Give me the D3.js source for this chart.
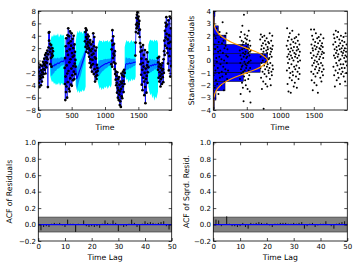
<!DOCTYPE html>
<html lang="en">
<head>
<meta charset="UTF-8">
<title>Model diagnostics</title>
<style>
  html, body { margin: 0; padding: 0; background: #fff; }
  svg { display: block; font-family: "DejaVu Sans", sans-serif; }
</style>
</head>
<body>
<svg id="svg" width="360" height="270"></svg>
<script src="https://d3js.org/d3.v7.min.js"></script>
<script>
// ---- data ----
// observation clusters (time range, values in time order)
const clusterStart = [0, 395, 700, 1095, 1455, 1790]
const clusterEnd = [220, 560, 890, 1295, 1650, 1995]
const obs1 = [-0.4, -1.8, -3.6, -1.1, -4.3, -2.5, -3.0, -0.7, -2.8, -4.0, -1.6, -2.3, -3.4, -0.9, -1.9, -2.7, -0.2, -1.4, -2.2, -0.6, 0.3, -1.5, -0.8, 0.9, -2.1, -0.3, 1.2, -1.1, 0.5, -0.4, 1.6, 0.2, -4.3, 1.0, 2.1, 4.5, 3.2, 4.6, 1.4, 2.7, -0.6, 1.9, 0.4, 2.5, -1.0, 1.1, 0.6, 2.0, 0.8, 1.5]
const obs2 = [-1.2, -3.8, 0.4, -6.4, -2.6, 2.3, -5.1, 3.6, -4.2, -0.8, 1.5, -6.0, -2.1, 4.1, -3.5, 0.9, 5.2, -1.7, 2.8, -4.6, 3.9, -0.3, -5.0, 1.8, 4.7, -2.9, 0.2, 3.1, -3.9, 2.4, -1.3, 4.4, -4.1, 1.2, -2.4, 3.5, 0.6, -3.2, 2.0, -0.9, 4.0, -1.8, 0.8, -3.0, 2.6, -0.5, 1.4, -2.2, 0.1, -1.0]
const obs3 = [3.1, 4.6, 2.2, 5.2, 3.8, 1.4, 4.9, 2.7, 3.5, 1.9, 4.2, 2.4, 3.0, 1.2, 3.9, 2.0, 0.6, 2.9, -0.4, 1.7, 3.3, 0.2, -1.1, 1.5, 2.6, -0.8, 0.9, -1.8, 1.9, 0.1, 3.0, -0.6, 4.4, 1.1, -2.2, 2.3, 3.8, -1.4, 0.5, -3.4, 1.6, -2.6, 0.3, -1.9, 2.1, -3.0, -0.7, -2.4, -1.2, -1.7]
const obs4 = [-0.6, 1.8, 3.2, -1.0, 4.9, 2.5, 0.4, 3.9, 1.1, -0.3, 2.7, 0.8, -1.4, 1.5, -2.2, -0.5, -3.1, -1.8, -4.0, -2.5, -3.6, -5.2, -1.9, -4.4, -6.0, -3.0, -4.8, -6.4, -2.7, -5.5, -3.9, -7.2, -5.0, -6.6, -3.4, -7.5, -4.6, -2.1, -5.8, -3.7, -6.1, -2.4, -4.2, -1.8, -3.3, -5.1, -2.6, -1.5, -3.8, -2.0]
const obs5 = [0.8, 2.9, 4.6, 5.8, 6.9, 5.2, 7.4, 6.1, 7.8, 5.5, 6.7, 4.4, 7.1, 5.9, 4.9, 6.4, 3.8, 5.0, 2.8, 1.4, -0.6, 2.2, -2.3, 0.3, -3.9, 1.6, -1.5, -4.8, -0.4, 2.5, -2.8, -1.0, 0.9, -3.4, -5.6, -2.0, 1.7, -4.3, -6.9, -1.3, -3.0, 0.2, -5.2, -2.5, -0.8, 1.3, -3.6, -1.9, -0.2, -1.1]
const obs6 = [0.4, -1.5, -0.3, -2.8, -1.0, 0.6, -3.4, -1.9, -0.6, -2.5, -4.2, -1.2, -3.0, -0.8, -2.2, -3.8, -1.6, -0.4, -2.7, -1.4, -3.5, 0.2, -2.0, 1.5, 3.2, 0.9, 4.8, 2.4, 6.1, 3.7, 5.5, 7.0, 4.3, 2.0, 5.8, 1.2, 3.4, -0.5, 6.5, 2.8, -1.6, 4.1, 0.7, 7.1, 1.9, -2.6, 3.0, 5.2, -0.9, 6.8]

// forecast bands in the gaps between clusters
const gapT = [
  [175, 190, 205, 220, 235, 250, 265, 280, 295, 310, 325, 340, 355, 370, 385, 395],
  [560, 575, 590, 605, 620, 635, 650, 665, 680, 695, 710],
  [890, 905, 920, 935, 950, 965, 980, 995, 1010, 1025, 1040, 1055, 1070, 1085, 1100],
  [1295, 1310, 1325, 1340, 1355, 1370, 1385, 1400, 1415, 1430, 1445, 1460],
  [1650, 1665, 1680, 1695, 1710, 1725, 1740, 1755, 1770, 1785, 1795]
]
const gapHi = [
  [2.8, 3.6, 4.1, 3.8, 4.3, 3.9, 4.2, 4.0, 4.4, 3.7, 4.1, 4.3, 3.9, 4.2, 4.0, 3.2],
  [3.0, 4.2, 4.8, 4.4, 4.9, 4.5, 4.7, 4.3, 4.8, 4.6, 3.8],
  [2.4, 3.0, 3.3, 3.1, 3.2, 2.9, 3.3, 3.0, 3.2, 3.1, 3.3, 2.9, 3.2, 3.0, 2.6],
  [2.2, 2.9, 3.3, 3.0, 3.2, 2.8, 3.1, 3.3, 2.9, 3.2, 3.0, 2.4],
  [2.5, 3.1, 3.4, 3.2, 3.3, 3.0, 3.4, 3.1, 3.3, 3.2, 2.8]
]
const gapLo = [
  [-2.4, -3.0, -3.5, -3.3, -3.8, -3.6, -4.0, -3.7, -3.9, -3.5, -4.1, -3.8, -3.6, -4.0, -3.7, -2.9],
  [-4.0, -4.6, -5.2, -4.8, -5.3, -4.9, -5.1, -4.7, -5.0, -4.8, -4.2],
  [-3.4, -4.0, -4.6, -4.3, -4.8, -4.4, -4.7, -4.2, -4.5, -4.1, -4.6, -4.3, -4.0, -4.4, -3.8],
  [-2.3, -2.8, -3.2, -3.0, -3.6, -3.1, -3.4, -2.9, -3.3, -3.0, -3.2, -2.6],
  [-4.2, -5.0, -5.6, -5.3, -6.1, -5.6, -6.5, -5.8, -6.2, -5.5, -5.0]
]
const gapMean = [
  [1.2, -0.9, -1.1, -0.8, -0.9, -0.6, -0.7, -0.5, -0.4, -0.5, -0.3, -0.2, -0.1, -0.2, 0.0, 0.3],
  [-1.0, -3.0, -2.6, -2.1, -1.6, -1.2, -0.7, -0.2, 0.3, 0.8, 1.5],
  [-1.7, -1.3, -1.2, -1.0, -0.9, -0.8, -0.7, -0.6, -0.5, -0.5, -0.4, -0.3, -0.3, -0.2, -0.2],
  [-2.0, -0.6, -0.5, -0.6, -0.5, -0.4, -0.5, -0.4, -0.4, -0.3, -0.3, -0.2],
  [-1.1, -0.9, -0.8, -0.9, -0.7, -0.8, -0.6, -0.7, -0.6, -0.5, -0.4]
]
const gapSpread = [
  [0.6, 1.5, 1.4, 1.3, 1.2, 1.1, 1.0, 0.9, 0.9, 0.8, 0.8, 0.7, 0.7, 0.6, 0.6, 0.5],
  [0.6, 1.8, 1.7, 1.5, 1.4, 1.3, 1.1, 1.0, 0.9, 0.8, 0.6],
  [0.6, 1.3, 1.2, 1.1, 1.0, 0.9, 0.9, 0.8, 0.8, 0.7, 0.7, 0.6, 0.6, 0.6, 0.5],
  [0.6, 1.1, 1.0, 0.9, 0.9, 0.8, 0.8, 0.7, 0.7, 0.6, 0.6, 0.5],
  [0.6, 1.2, 1.1, 1.0, 1.0, 0.9, 0.8, 0.8, 0.7, 0.7, 0.6]
]

// standardized residuals, same clusters
const resid1 = [0.5, -1.2, 2.1, -0.4, 1.3, -2.2, 0.9, -0.8, 1.8, -1.6, 0.2, 2.6, -0.1, -1.9, 1.1, -0.6, 0.7, -2.7, 1.5, -1.0, 0.3, 2.3, -1.4, 0.8, -0.3, 1.9, -2.0, 0.1, -0.9, 1.4, -1.3, 3.1, 0.6, -0.5, 1.6, -2.4, 0.0, 1.0, -1.7, 2.0, -0.7, 1.2, -1.1, 0.4, 2.2, -0.2, -1.5, 0.9, 0.3, -0.8]
const resid2 = [0.8, -1.5, 1.9, -0.2, 0.4, -2.7, 1.2, -0.7, 2.3, -1.1, 0.1, 1.6, -0.5, -1.8, 0.9, 2.8, -0.4, 1.3, -2.2, 0.6, -0.9, 1.5, -3.3, 0.3, 3.7, -1.3, 1.0, -0.1, 2.1, -0.8, 0.5, -1.6, 1.8, -0.3, 0.7, -2.0, 1.4, -0.6, 0.2, 1.1, -0.4, 1.7, -1.0, 0.3, 2.0, -2.3, 0.9, -0.2, 1.3, -1.5, 0.6, -0.8, 2.4, -0.1, 1.0, -1.2, 0.4, 1.6, -2.5, 0.7, -0.6, 1.2, -3.4, 0.0, 0.8]
const resid3 = [1.7, -0.6, 0.3, 2.1, -1.4, 0.9, -0.2, 1.2, -2.3, 0.5, 1.9, -0.9, 0.0, 1.4, -1.7, 0.7, -3.9, 1.0, -0.4, 2.0, -1.1, 0.4, 1.6, -0.7, 0.2, -1.9, 1.3, -0.1, 0.8, -1.3, 1.8, -0.5, 0.6, -2.1, 1.1, -0.3, 0.9, 1.5, -0.8, 0.1, -1.0, 1.4, 0.2, -0.6, 2.2, -1.5, 0.5, -0.2, 1.0, -2.0, 0.7, 1.6, -0.9, 0.3, -1.2, 0.9, 2.0, -0.4, 1.2, -0.7]
const resid4 = [1.2, -0.8, 2.6, 0.3, -1.9, 1.6, -0.2, 0.9, -2.5, 0.5, 1.9, -0.6, 0.1, -1.4, 2.2, 0.7, -1.0, 1.3, -2.6, 0.4, 1.0, -0.3, 1.7, -1.6, 0.2, 2.4, -0.9, 0.8, -1.2, 1.5, 0.0, -2.1, 1.1, -0.5, 0.6, 1.8, -1.8, 0.3, -0.7, 1.4, 0.5, -1.3, 1.9, -0.4, 0.8, -2.2, 1.1, 0.2, -0.9, 1.6, -0.1, 0.9, -1.5, 2.1, 0.4, -0.6, 1.3, -1.1, 0.7, 0.0]
const resid5 = [0.6, 2.5, -0.9, 1.3, -1.6, 0.2, 2.0, -0.4, 1.0, -2.4, 0.8, 1.7, -1.1, 0.4, -0.2, 2.5, -1.8, 1.2, 0.0, -0.7, 1.5, -1.3, 0.9, 2.2, -0.5, 0.3, -2.0, 1.1, -0.1, 1.8, -1.0, 0.5, -2.6, 1.4, -0.3, 0.7, 1.9, -0.8, 0.1, 1.0, -0.6, 1.6, 0.3, -1.4, 0.9, 2.1, -0.2, 1.2, -1.7, 0.5, -0.9, 1.4, 0.7, -0.4, 1.1, -1.2, 0.2, 1.8, -0.7, 0.6]
const resid6 = [1.3, -0.5, 2.1, 0.4, -1.2, 1.8, 0.9, -2.1, 0.2, 1.5, -0.8, 2.4, 0.6, -0.2, 1.1, -1.6, 0.8, 1.9, -0.4, 0.3, -1.0, 2.3, 0.5, -1.4, 1.2, 0.0, 1.7, -0.7, 0.9, -1.9, 1.4, 0.1, -0.3, 2.0, -1.1, 0.7, 1.0, -0.6, 1.6, 0.4, -0.9, 1.2, 0.6, -0.3, 1.9, -1.3, 0.8, 0.2, 1.5, -0.6, 1.0, -1.7, 0.4, 2.2, -0.1, 0.7, -1.0, 1.3, 0.3, -0.4]

// sideways histogram of residuals (bin edges, bar length in time units)
const histEdges = [-3.95, -3.2, -2.45, -1.7, -0.95, -0.2, 0.55, 1.3, 2.05, 2.8, 3.55, 4.0]
const histLength = [15, 40, 175, 450, 700, 810, 525, 190, 75, 20, 25]
// normal density curve
const curveY = [-4, -3.5, -3, -2.5, -2, -1.5, -1, -0.5, 0, 0.5, 1, 1.5, 2, 2.5, 3, 3.5, 4]
const curveX = [0, 2, 9, 36, 110, 263, 491, 715, 810, 715, 491, 263, 110, 36, 9, 2, 0]

// autocorrelations, lags 1..50
const acfLags = d3.range(1, 51)
const acfResid = [-0.07, -0.03, -0.02, -0.03, 0.01, 0.02, 0.01, 0.02, -0.01, -0.03, 0.06, 0.01, 0.01, -0.09, 0.01, 0.0, 0.05, -0.02, -0.03, -0.02, -0.03, -0.02, -0.04, 0.01, 0.05, 0.02, 0.01, 0.05, 0.02, -0.08, -0.01, -0.03, -0.02, 0.01, 0.06, 0.02, -0.03, -0.08, 0.01, 0.04, 0.02, 0.03, 0.02, 0.01, 0.02, 0.03, 0.04, -0.02, -0.06, 0.0]
const acfSqrd = [0.06, 0.05, -0.02, 0.0, 0.1, 0.01, -0.02, -0.02, -0.03, -0.02, 0.02, -0.03, -0.05, 0.02, 0.01, 0.02, 0.03, 0.02, 0.01, 0.02, -0.01, -0.03, 0.01, 0.01, 0.02, 0.02, 0.02, 0.01, 0.01, 0.02, 0.01, 0.02, 0.03, -0.05, -0.02, 0.01, 0.02, -0.03, -0.01, 0.01, 0.01, 0.04, 0.0, -0.02, -0.05, 0.01, 0.02, 0.03, 0.04, 0.01]
const confBand = 0.09

// ---- drawing ----
const svg = d3.select('#svg')
const tickFont = 7
const labelFont = 7.7
const minus = s => s.replace('-', '\u2212')

function panel(id, box, xDomain, yDomain, xTicks, yTicks, xFmt, yFmt) {
  const x = d3.scaleLinear().domain(xDomain).range([box.x0, box.x1])
  const y = d3.scaleLinear().domain(yDomain).range([box.y1, box.y0])
  svg.append('clipPath').attr('id', 'clip-' + id)
    .append('rect')
    .attr('x', box.x0).attr('y', box.y0)
    .attr('width', box.x1 - box.x0).attr('height', box.y1 - box.y0)
  const plot = svg.append('g').attr('clip-path', `url(#clip-${id})`)
  const frame = () => {
    const axes = [
      [d3.axisBottom(x).tickValues(xTicks).tickFormat(xFmt), `translate(0,${box.y1})`],
      [d3.axisTop(x).tickValues(xTicks).tickFormat(''), `translate(0,${box.y0})`],
      [d3.axisLeft(y).tickValues(yTicks).tickFormat(yFmt), `translate(${box.x0},0)`],
      [d3.axisRight(y).tickValues(yTicks).tickFormat(''), `translate(${box.x1},0)`]
    ]
    axes.forEach(([ax, tr], i) => {
      const g = svg.append('g').attr('transform', tr)
        .call(ax.tickSize(-3).tickPadding(i === 0 ? 2.6 : 2.4))
      g.select('.domain').remove()
      g.selectAll('line').attr('stroke', '#000').attr('stroke-width', 0.7)
      g.selectAll('text').attr('font-size', tickFont).attr('fill', '#000')
        .attr('font-family', '"DejaVu Sans", sans-serif')
    })
    svg.append('rect')
      .attr('x', box.x0).attr('y', box.y0)
      .attr('width', box.x1 - box.x0).attr('height', box.y1 - box.y0)
      .attr('fill', 'none').attr('stroke', '#000').attr('stroke-width', 0.8)
  }
  return {x, y, plot, frame}
}

function label(text, x, y, rotate) {
  svg.append('text')
    .attr('transform', `translate(${x},${y})` + (rotate ? ' rotate(-90)' : ''))
    .attr('text-anchor', 'middle')
    .attr('font-size', labelFont)
    .text(text)
}

const clusters = [obs1, obs2, obs3, obs4, obs5, obs6]
const residClusters = [resid1, resid2, resid3, resid4, resid5, resid6]
const timed = (vals, c) => vals.map((v, i) => ({
  t: clusterStart[c] + (clusterEnd[c] - clusterStart[c]) * i / (vals.length - 1), v
}))

// top left: fit and forecast
const fit = panel('fit', {x0: 38.3, x1: 171.7, y0: 11, y1: 110}, [0, 2000], [-8, 8],
  [0, 500, 1000, 1500], d3.range(-8, 9, 2), d3.format('d'), d => minus(String(d)))
gapT.forEach((ts, g) => {
  const rows = ts.map((t, i) => ({t, hi: gapHi[g][i], lo: gapLo[g][i],
    m: gapMean[g][i], s: gapSpread[g][i]}))
  fit.plot.append('path').datum(rows)
    .attr('fill', '#00ffff')
    .attr('d', d3.area().x(d => fit.x(d.t)).y0(d => fit.y(d.lo)).y1(d => fit.y(d.hi)))
  fit.plot.append('path').datum(rows)
    .attr('fill', '#0000ff').attr('fill-opacity', 0.4)
    .attr('d', d3.area().x(d => fit.x(d.t)).y0(d => fit.y(d.m - d.s)).y1(d => fit.y(d.m + d.s)))
  fit.plot.append('path').datum(rows)
    .attr('fill', 'none').attr('stroke', '#0000ff').attr('stroke-width', 1.1)
    .attr('d', d3.line().x(d => fit.x(d.t)).y(d => fit.y(d.m)))
})
clusters.forEach((vals, c) => {
  const pts = timed(vals, c)
  fit.plot.append('path').datum(pts)
    .attr('fill', 'none').attr('stroke', '#0000ff').attr('stroke-width', 0.8)
    .attr('d', d3.line().x(d => fit.x(d.t)).y(d => fit.y(d.v)))
  fit.plot.selectAll(null).data(pts).join('circle')
    .attr('cx', d => fit.x(d.t)).attr('cy', d => fit.y(d.v))
    .attr('r', 1.35).attr('fill', '#000')
})
fit.frame()
label('Time', 105, 129.5)

// top right: standardized residuals
const res = panel('res', {x0: 213.3, x1: 347.3, y0: 11, y1: 110}, [0, 2000], [-4, 4],
  [0, 500, 1000, 1500], d3.range(-4, 5, 1), d3.format('d'), d => minus(String(d)))
const bins = histLength.map((len, i) => ({lo: histEdges[i], hi: histEdges[i + 1], len}))
res.plot.selectAll(null).data(bins).join('rect')
  .attr('x', res.x(0)).attr('y', d => res.y(d.hi))
  .attr('width', d => res.x(d.len) - res.x(0))
  .attr('height', d => res.y(d.lo) - res.y(d.hi))
  .attr('fill', '#0000ff').attr('stroke', '#000').attr('stroke-width', 0.5)
residClusters.forEach((vals, c) => {
  res.plot.selectAll(null).data(timed(vals, c)).join('circle')
    .attr('cx', d => res.x(d.t)).attr('cy', d => res.y(d.v))
    .attr('r', 1.0).attr('fill', '#000')
})
res.plot.append('path').datum(curveY.map((v, i) => [curveX[i], v]))
  .attr('fill', 'none').attr('stroke', '#ff9900').attr('stroke-width', 1.2)
  .attr('d', d3.line().x(d => res.x(d[0])).y(d => res.y(d[1])).curve(d3.curveCatmullRom))
res.frame()
label('Time', 280, 129.5)
label('Standardized Residuals', 193.5, 60.5, true)

// bottom: autocorrelation panels
function acfPanel(id, box, values, yText, yTextX) {
  const p = panel(id, box, [0, 50], [-0.2, 1.0], d3.range(0, 51, 10),
    d3.range(-0.2, 1.01, 0.2), d3.format('d'), d => minus(d3.format('.1f')(d)))
  p.plot.append('rect')
    .attr('x', p.x(0)).attr('y', p.y(confBand))
    .attr('width', p.x(50) - p.x(0)).attr('height', p.y(-confBand) - p.y(confBand))
    .attr('fill', '#808080').attr('stroke', '#444').attr('stroke-width', 0.8)
  p.plot.selectAll(null).data(acfLags).join('line')
    .attr('x1', d => p.x(d)).attr('x2', d => p.x(d))
    .attr('y1', p.y(0)).attr('y2', (d, i) => p.y(values[i]))
    .attr('stroke', '#000').attr('stroke-width', 0.9)
  p.plot.append('line')
    .attr('x1', p.x(0)).attr('x2', p.x(50))
    .attr('y1', p.y(0)).attr('y2', p.y(0))
    .attr('stroke', '#0000ff').attr('stroke-width', 1.3)
  p.frame()
  label('Time Lag', (box.x0 + box.x1) / 2, 259.5)
  label(yText, yTextX, (box.y0 + box.y1) / 2, true)
}
acfPanel('acf1', {x0: 38.3, x1: 171.7, y0: 142.3, y1: 241}, acfResid, 'ACF of Residuals', 11.5)
acfPanel('acf2', {x0: 213.3, x1: 347.3, y0: 142.3, y1: 241}, acfSqrd, 'ACF of Sqrd. Resid.', 188.5)
</script>
</body>
</html>
